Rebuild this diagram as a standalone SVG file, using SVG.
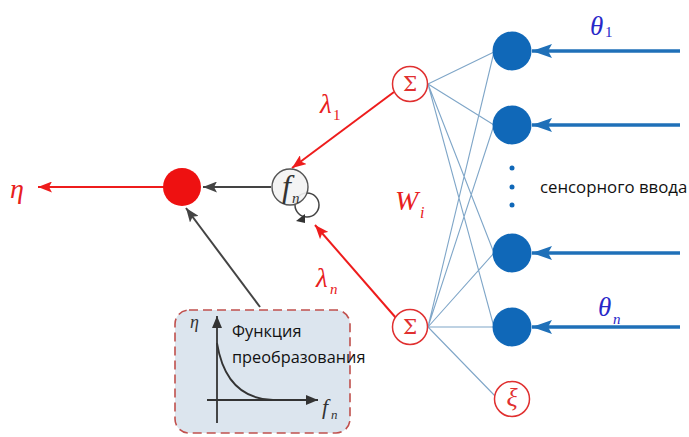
<svg xmlns="http://www.w3.org/2000/svg" width="689" height="437" viewBox="0 0 689 437">
<defs>
<style>
.wire{stroke:#7fa6c8;stroke-width:1.1;fill:none}
.blue{fill:#1068b8}
.barrow{stroke:#1f70b8;stroke-width:3.4;fill:none}
.rline{stroke:#ee1c1c;stroke-width:2;fill:none}
.gline{stroke:#444;stroke-width:2;fill:none}
.sig{fill:#fff;stroke:#e03030;stroke-width:1.5}
.math{font-family:"Liberation Serif","DejaVu Serif",serif;font-style:italic}
.up{font-family:"Liberation Serif","DejaVu Serif",serif}
.lbl{font-family:"Open Sans","Noto Sans","Liberation Sans",sans-serif;fill:#111}
</style>
<marker id="ab" markerUnits="userSpaceOnUse" markerWidth="21" markerHeight="14" refX="20" refY="7" orient="auto"><path d="M0,0 L20,7 L0,14 L4,7 z" fill="#1f70b8"/></marker>
<marker id="ar" markerUnits="userSpaceOnUse" markerWidth="15" markerHeight="11" refX="14" refY="5.5" orient="auto"><path d="M0,0 L14,5.5 L0,11 L3,5.5 z" fill="#ee1c1c"/></marker>
<marker id="ag" markerUnits="userSpaceOnUse" markerWidth="15" markerHeight="11" refX="14" refY="5.5" orient="auto"><path d="M0,0 L14,5.5 L0,11 L3,5.5 z" fill="#444"/></marker>
<marker id="ak" markerUnits="userSpaceOnUse" markerWidth="13" markerHeight="10" refX="12" refY="5" orient="auto"><path d="M0,0 L12,5 L0,10 z" fill="#333"/></marker>
</defs>
<rect width="689" height="437" fill="#fff"/>

<g id="connectors">
<path class="wire" d="M428,84 L494,52 M428,84 L494,125 M428,84 L494,253 M428,84 L494,327 M428,327 L494,52 M428,327 L494,125 M428,327 L494,253 M428,327 L494,327 M428,327 L496,397"/>
<line class="barrow" x1="680" y1="51" x2="532" y2="51" marker-end="url(#ab)"/>
<line class="barrow" x1="680" y1="125" x2="532" y2="125" marker-end="url(#ab)"/>
<line class="barrow" x1="680" y1="253" x2="532" y2="253" marker-end="url(#ab)"/>
<line class="barrow" x1="680" y1="327" x2="532" y2="327" marker-end="url(#ab)"/>
<line class="rline" x1="394" y1="92" x2="292" y2="168" marker-end="url(#ar)"/>
<line class="rline" x1="396" y1="318" x2="315" y2="225" marker-end="url(#ar)"/>
<line class="gline" x1="271" y1="187" x2="203" y2="187" marker-end="url(#ag)"/>
<line class="rline" x1="165" y1="187" x2="38" y2="187" marker-end="url(#ar)"/>
<line class="gline" x1="260" y1="307" x2="186" y2="208" marker-end="url(#ag)"/>
</g>

<g id="red-output">
<circle cx="182" cy="187" r="19" fill="#ee1111"/>
<text class="math" x="10" y="198" font-size="28" fill="#e82020">η</text>
</g>

<g id="fn-node">
<circle cx="307" cy="205" r="12" fill="none" stroke="#444" stroke-width="1.5"/>
<path d="M296,221 L305,214 L305,223 z" fill="#333"/>
<circle cx="290" cy="187" r="18" fill="#f3f3f3" fill-opacity="0.9" stroke="#555" stroke-width="1.4"/>
<text class="math" x="282" y="197" font-size="32" fill="#333">f</text>
<text class="math" x="292" y="203" font-size="15" fill="#333">n</text>
</g>

<g id="sigma-top">
<circle class="sig" cx="410" cy="84" r="17.5"/>
<text x="410" y="91" font-size="20" text-anchor="middle" fill="#e03030" font-family="'DejaVu Serif','Liberation Serif',serif">Σ</text>
</g>
<g id="sigma-bottom">
<circle class="sig" cx="410" cy="327" r="17.5"/>
<text x="410" y="334" font-size="20" text-anchor="middle" fill="#e03030" font-family="'DejaVu Serif','Liberation Serif',serif">Σ</text>
</g>
<g id="xi">
<circle class="sig" cx="512" cy="399" r="17.5"/>
<text class="math" x="512" y="406" font-size="26" text-anchor="middle" fill="#e03030">ξ</text>
</g>

<g id="input-nodes">
<circle class="blue" cx="512" cy="51" r="19.5"/>
<circle class="blue" cx="512" cy="125" r="19.5"/>
<circle class="blue" cx="512" cy="253" r="19.5"/>
<circle class="blue" cx="512" cy="327" r="19.5"/>
<circle class="blue" cx="512" cy="168" r="2.5"/>
<circle class="blue" cx="512" cy="187" r="2.5"/>
<circle class="blue" cx="512" cy="205" r="2.5"/>
<text class="lbl" x="540" y="193" font-size="16.8">сенсорного ввода</text>
</g>

<g id="labels">
<text class="math" x="590" y="35" font-size="27" fill="#2828c8">θ</text>
<text class="up" x="605" y="37" font-size="15" fill="#2828c8">1</text>
<text class="math" x="598" y="316" font-size="27" fill="#2828c8">θ</text>
<text class="math" x="613" y="324" font-size="15" fill="#2828c8">n</text>
<text class="math" x="320" y="113" font-size="27" fill="#e82020">λ</text>
<text class="up" x="333" y="120" font-size="15" fill="#e82020">1</text>
<text class="math" x="316" y="287" font-size="27" fill="#e82020">λ</text>
<text class="math" x="330" y="294" font-size="15" fill="#e82020">n</text>
<text class="math" x="395" y="210" font-size="28" fill="#e82020">W</text>
<text class="math" x="420" y="218" font-size="16" fill="#e82020">i</text>
</g>

<g id="transfer-box">
<rect x="175" y="310" width="175" height="123" rx="14" fill="#dce5ee" stroke="#c0504d" stroke-width="1.6" stroke-dasharray="9 5"/>
<line x1="217" y1="423" x2="217" y2="316" stroke="#333" stroke-width="1.8" marker-end="url(#ak)"/>
<line x1="207" y1="400" x2="318" y2="400" stroke="#333" stroke-width="1.8" marker-end="url(#ak)"/>
<path d="M217,343 C223,380 242,399 273,400" fill="none" stroke="#333" stroke-width="1.8"/>
<text class="math" x="190" y="328" font-size="18" fill="#333">η</text>
<text class="math" x="322" y="414" font-size="22" fill="#333">f</text>
<text class="math" x="331" y="419" font-size="13" fill="#333">n</text>
<text class="lbl" x="232" y="337" font-size="16.3">Функция</text>
<text class="lbl" x="232" y="363" font-size="16.3">преобразования</text>
</g>
</svg>
